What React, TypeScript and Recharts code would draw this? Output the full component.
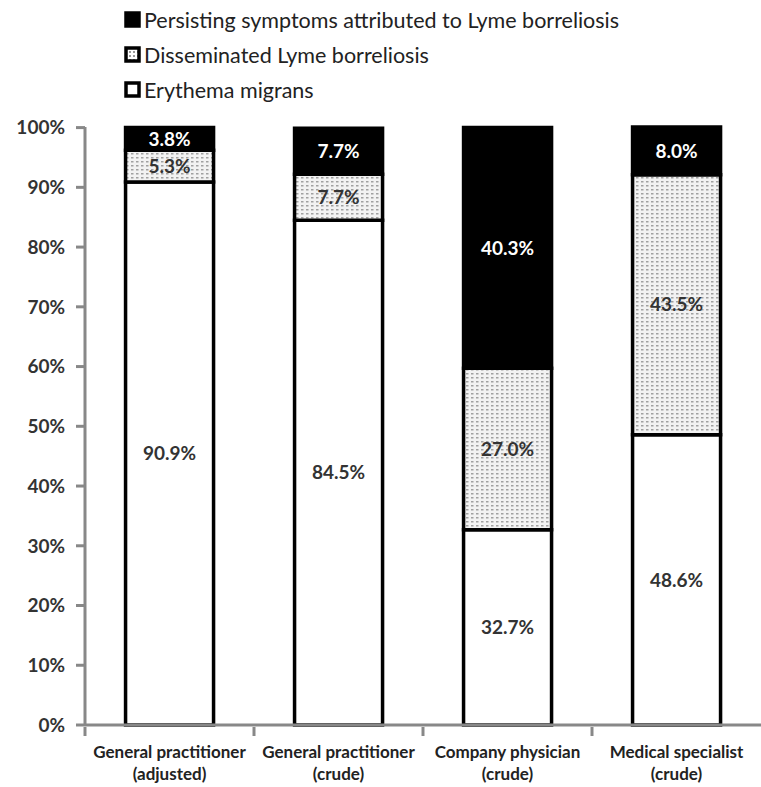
import React from 'react';
import { BarChart, Bar, XAxis, YAxis, Legend, LabelList } from 'recharts';

const categories = [
  'General practitioner|(adjusted)',
  'General practitioner|(crude)',
  'Company physician|(crude)',
  'Medical specialist|(crude)',
];
const erythema = [90.9, 84.5, 32.7, 48.6];
const disseminated = [5.3, 7.7, 27.0, 43.5];
const persisting = [3.8, 7.7, 40.3, 8.0];
const yTicks = [0, 10, 20, 30, 40, 50, 60, 70, 80, 90, 100];

const data = categories.map((c, i) => ({
  name: c,
  em: erythema[i],
  dis: disseminated[i],
  per: persisting[i],
}));

const FONT = 'Lato, "Open Sans", sans-serif';

const legendItems = [
  { label: 'Persisting symptoms attributed to Lyme borreliosis', kind: 'black' },
  { label: 'Disseminated Lyme borreliosis', kind: 'dots' },
  { label: 'Erythema migrans', kind: 'white' },
];

const LegendContent = () => (
  <div style={{ fontFamily: FONT, fontSize: 21.5, color: '#222' }}>
    {legendItems.map((it) => (
      <div key={it.label} style={{ display: 'flex', alignItems: 'center', height: 35 }}>
        <svg width={17} height={17} style={{ marginRight: 3 }}>
          <defs>
            <pattern id="dotsLeg" width="4" height="4" patternUnits="userSpaceOnUse">
              <rect width="4" height="4" fill="#fff" />
              <rect x="1" y="1" width="2" height="2" fill="#999" />
            </pattern>
          </defs>
          <rect
            x={2}
            y={2}
            width={13}
            height={13}
            fill={it.kind === 'black' ? '#000' : it.kind === 'dots' ? 'url(#dotsLeg)' : '#fff'}
            stroke="#000"
            strokeWidth={3.5}
          />
        </svg>
        <span>{it.label}</span>
      </div>
    ))}
  </div>
);

const XTick = (props: any) => {
  const { x, y, payload, width, visibleTicksCount } = props;
  const [l1, l2] = String(payload.value).split('|');
  const band = width / (visibleTicksCount || 4);
  return (
    <g>
      <line x1={x - band / 2} x2={x - band / 2} y1={y - 8} y2={y + 1} stroke="#888" strokeWidth={3} />
      <text x={x} y={y} textAnchor="middle" fontFamily={FONT} fontSize={17} fontWeight="bold" fill="#222">
        <tspan x={x} dy={23}>{l1}</tspan>
        <tspan x={x} dy={22}>{l2}</tspan>
      </text>
    </g>
  );
};

const fmt = (v: any) => `${Number(v).toFixed(1)}%`;

export default function App() {
  return (
    <div style={{ position: 'absolute', left: 0, top: 0 }}>
      <BarChart
        width={761}
        height={787}
        data={data}
        margin={{ top: 127, right: 0, bottom: 0, left: 10 }}
        barCategoryGap="24%"
      >
        <defs>
          <pattern id="dots" width="5" height="4" patternUnits="userSpaceOnUse">
            <rect width="5" height="4" fill="#f2f2f2" />
            <rect x="1" y="1" width="2.5" height="1.5" fill="#a0a0a0" />
          </pattern>
        </defs>
        <Legend
          layout="vertical"
          align="center"
          verticalAlign="middle"
          content={<LegendContent />}
          wrapperStyle={{ position: 'absolute', left: 124, top: 2, width: 620 }}
        />
        <XAxis
          dataKey="name"
          tick={<XTick />}
          tickLine={false}
          tickSize={8}
          axisLine={{ stroke: '#888', strokeWidth: 3 }}
          interval={0}
          height={62}
        />
        <YAxis
          type="number"
          domain={[0, 100]}
          ticks={yTicks}
          tickFormatter={(v: number) => `${v}%`}
          width={75}
          tickSize={9}
          tickMargin={11}
          tickLine={{ stroke: '#888', strokeWidth: 3 }}
          axisLine={{ stroke: '#888', strokeWidth: 3 }}
          tick={{ fontFamily: FONT, fontSize: 19, fontWeight: 'bold', fill: '#333' }}
          interval={0}
        />
        <Bar dataKey="em" stackId="a" fill="#fff" stroke="#000" strokeWidth={3.5} isAnimationActive={false}>
          <LabelList dataKey="em" position="center" formatter={fmt} fill="#333" fontFamily={FONT} fontSize={19} fontWeight="bold" />
        </Bar>
        <Bar dataKey="dis" stackId="a" fill="url(#dots)" stroke="#000" strokeWidth={3.5} isAnimationActive={false}>
          <LabelList dataKey="dis" position="center" formatter={fmt} fill="#333" fontFamily={FONT} fontSize={19} fontWeight="bold" />
        </Bar>
        <Bar dataKey="per" stackId="a" fill="#000" stroke="#000" strokeWidth={3.5} isAnimationActive={false}>
          <LabelList dataKey="per" position="center" formatter={fmt} fill="#fff" fontFamily={FONT} fontSize={19} fontWeight="bold" />
        </Bar>
      </BarChart>
    </div>
  );
}
